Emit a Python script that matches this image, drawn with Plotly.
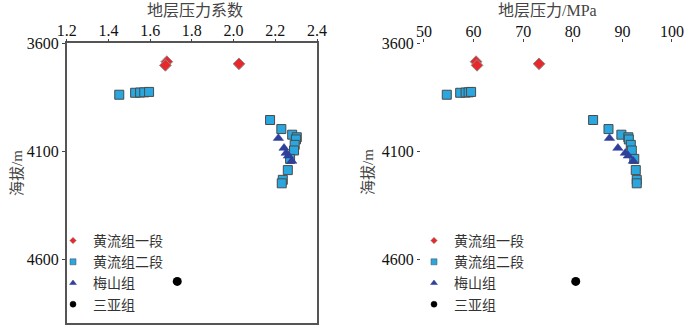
import plotly.graph_objects as go

# ---- data ----
groups = ["黄流组一段", "黄流组二段", "梅山组", "三亚组"]

hl1_coef = [1.680, 1.673, 2.026]
hl1_pres = [60.5, 60.7, 73.2]
hl1_depth = [3685, 3702, 3695]

hl2_coef = [1.452, 1.528, 1.552, 1.572, 1.595,
            2.175, 2.229, 2.281, 2.303, 2.299, 2.293, 2.290, 2.271, 2.260, 2.236, 2.231]
hl2_pres = [54.6, 57.3, 58.4, 59.0, 59.5,
            84.1, 87.2, 89.8, 91.2, 91.3, 91.7, 91.9, 92.4, 92.7, 92.9, 92.9]
hl2_depth = [3838, 3829, 3828, 3827, 3825,
             3955, 3997, 4023, 4035, 4045, 4070, 4096, 4135, 4187, 4232, 4248]

ms_coef = [2.215, 2.242, 2.252, 2.263, 2.279]
ms_pres = [87.4, 89.1, 90.6, 91.2, 92.2]
ms_depth = [4039, 4085, 4108, 4121, 4145]

sy_coef = [1.730]
sy_pres = [80.6]
sy_depth = [4702]

coef_ticks = [1.2, 1.4, 1.6, 1.8, 2.0, 2.2, 2.4]
pres_ticks = [50, 60, 70, 80, 90, 100]
depth_ticks = [3600, 4100, 4600]

# ---- styles ----
styles = [
    dict(symbol="diamond", color="#e8282b", line=dict(color="#8a8a8a", width=1), size=9),
    dict(symbol="square", color="#2aa7df", line=dict(color="#4a4a4a", width=1), size=9),
    dict(symbol="triangle-up", color="#2f3f9a", line=dict(color="#2f3f9a", width=0.5), size=9),
    dict(symbol="circle", color="#000000", line=dict(color="#000000", width=0), size=9),
]
legend_sizes = [5, 6, 6, 6]

FONT = "Liberation Serif, Noto Sans CJK SC, serif"

fig = go.Figure()

left_sets = [(hl1_coef, hl1_depth), (hl2_coef, hl2_depth), (ms_coef, ms_depth), (sy_coef, sy_depth)]
right_sets = [(hl1_pres, hl1_depth), (hl2_pres, hl2_depth), (ms_pres, ms_depth), (sy_pres, sy_depth)]

draw_order = [3, 1, 2, 0]
for i in draw_order:
    xs, ys = left_sets[i]
    fig.add_trace(go.Scatter(x=xs, y=ys, mode="markers", marker=styles[i],
                             showlegend=False, xaxis="x", yaxis="y", hoverinfo="skip"))
    xs, ys = right_sets[i]
    fig.add_trace(go.Scatter(x=xs, y=ys, mode="markers", marker=styles[i],
                             showlegend=False, xaxis="x2", yaxis="y2", hoverinfo="skip"))

# legend entries (legend-only traces)
for i, name in enumerate(groups):
    st = dict(styles[i])
    st["size"] = legend_sizes[i]
    st["line"] = dict(color=st["line"]["color"], width=0.5)
    fig.add_trace(go.Scatter(x=[None], y=[None], mode="markers", marker=st, name=name,
                             xaxis="x", yaxis="y", legend="legend"))
    fig.add_trace(go.Scatter(x=[None], y=[None], mode="markers", marker=st, name=name,
                             xaxis="x2", yaxis="y2", legend="legend2"))

W, H = 700, 334
ytop, ybot = 43.3, 323.3
ydom = [(H - ybot) / H, (H - ytop) / H]
yrange = [4896, 3600]

tickfont = dict(family=FONT, size=16, color="#111111")

fig.update_layout(
    width=W, height=H,
    margin=dict(l=0, r=0, t=0, b=0, autoexpand=False),
    paper_bgcolor="white", plot_bgcolor="white",
    font=dict(family=FONT, size=15, color="#333333"),
    xaxis=dict(domain=[66.7 / W, 317.0 / W], range=[1.2, 2.4], side="top",
               tickvals=coef_ticks, ticktext=[f"{v:.1f}" for v in coef_ticks],
               ticks="outside", ticklen=3, tickcolor="#444", automargin=False,
               ticklabelstandoff=-4,
               showline=True, linecolor="#555555", linewidth=1.5, mirror=True,
               showgrid=False, zeroline=False, tickfont=tickfont, anchor="y"),
    yaxis=dict(domain=ydom, range=yrange, tickvals=depth_ticks,
               ticks="outside", ticklen=3, tickcolor="#444", automargin=False,
               showline=True, linecolor="#555555", linewidth=1.5, mirror=True,
               showgrid=False, zeroline=False, tickfont=tickfont, anchor="x"),
    xaxis2=dict(domain=[421.0 / W, 1.0], range=[49.4, 105.65], side="top",
                tickvals=pres_ticks, ticks="outside", ticklen=3, tickcolor="#444",
                automargin=False, ticklabelstandoff=-4,
                showline=False, showgrid=False, zeroline=False, tickfont=tickfont, anchor="y2"),
    yaxis2=dict(domain=ydom, range=yrange, tickvals=depth_ticks,
                ticks="outside", ticklen=3, tickcolor="#444", automargin=False,
                showline=False, showgrid=False, zeroline=False, tickfont=tickfont, anchor="x2"),
    legend=dict(x=53 / W, y=(H - 225) / H, xanchor="left", yanchor="top",
                bgcolor="rgba(0,0,0,0)", font=dict(family=FONT, size=14, color="#333333"),
                itemwidth=30, tracegroupgap=0),
    legend2=dict(x=414 / W, y=(H - 225) / H, xanchor="left", yanchor="top",
                 bgcolor="rgba(0,0,0,0)", font=dict(family=FONT, size=14, color="#333333"),
                 itemwidth=30, tracegroupgap=0),
    annotations=[
        dict(text="地层压力系数", x=195 / W, y=(H - 11) / H, xref="paper", yref="paper",
             xanchor="center", yanchor="middle",
             showarrow=False, font=dict(family=FONT, size=16, color="#444444")),
        dict(text="地层压力/MPa", x=547 / W, y=(H - 11) / H, xref="paper", yref="paper",
             xanchor="center", yanchor="middle",
             showarrow=False, font=dict(family=FONT, size=16, color="#444444")),
        dict(text="海拔/m", x=17 / W, y=(H - 173) / H, xref="paper", yref="paper",
             xanchor="center", yanchor="middle",
             showarrow=False, textangle=-90, font=dict(family=FONT, size=15, color="#444444")),
        dict(text="海拔/m", x=368 / W, y=(H - 172) / H, xref="paper", yref="paper",
             xanchor="center", yanchor="middle",
             showarrow=False, textangle=-90, font=dict(family=FONT, size=15, color="#444444")),
    ],
)

fig.write_html("out.html")
